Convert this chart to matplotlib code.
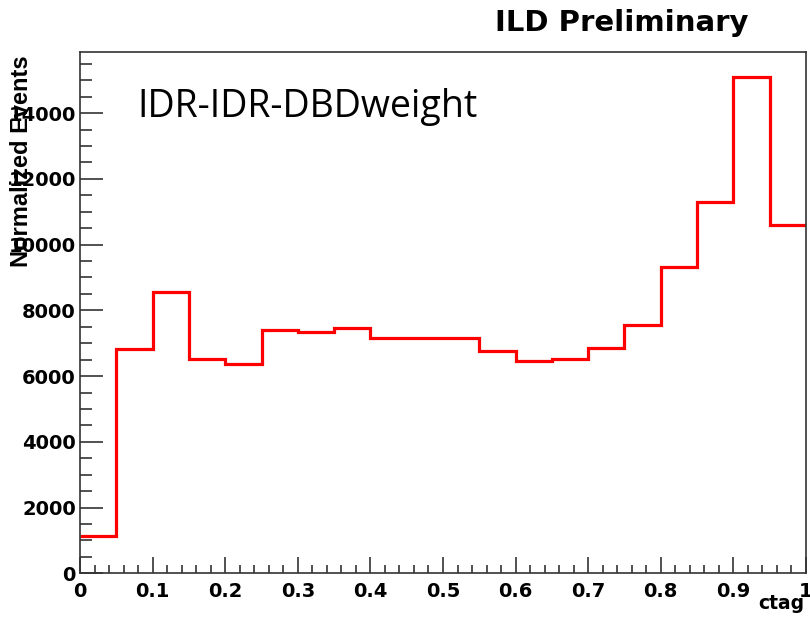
import numpy as np
import matplotlib.pyplot as plt
from matplotlib.ticker import MultipleLocator

# ctag histogram, 20 bins from 0 to 1
bin_edges = [0.0, 0.05, 0.1, 0.15, 0.2, 0.25, 0.3, 0.35, 0.4, 0.45, 0.5,
             0.55, 0.6, 0.65, 0.7, 0.75, 0.8, 0.85, 0.9, 0.95, 1.0]
counts = [1120, 6820, 8570, 6520, 6370, 7410, 7350, 7460, 7160, 7160,
          7160, 6770, 6470, 6510, 6865, 7556, 9310, 11310, 15090, 10600]

x_ticks = [0.0, 0.1, 0.2, 0.3, 0.4, 0.5, 0.6, 0.7, 0.8, 0.9, 1.0]
x_ticklabels = ['0', '0.1', '0.2', '0.3', '0.4', '0.5', '0.6', '0.7', '0.8', '0.9', '1']

title = 'ILD Preliminary'
sample_label = 'IDR-IDR-DBDweight'
x_label = 'ctag'
y_label = 'Normalized Events'

fig = plt.figure(figsize=(8.1, 6.25), dpi=100)
ax = fig.add_axes([0.0988, 0.0827, 0.8962, 0.8341])

ax.stairs(counts, bin_edges, baseline=None, color='red', lw=2.3)

ax.set_xlim(0, 1)
ax.set_ylim(0, 15860)

# оси в стиле ROOT
ax.set_xticks(x_ticks)
ax.set_xticklabels(x_ticklabels)
ax.xaxis.set_minor_locator(MultipleLocator(0.02))
ax.yaxis.set_major_locator(MultipleLocator(2000))
ax.yaxis.set_minor_locator(MultipleLocator(500))
ax.tick_params(axis='both', which='both', direction='in', top=False, right=False,
               color='#333333', width=1.2)
ax.tick_params(axis='y', which='major', length=16.5, pad=3)
ax.tick_params(axis='y', which='minor', length=8.5)
ax.tick_params(axis='x', which='major', length=11.5, pad=6)
ax.tick_params(axis='x', which='minor', length=5.8)
for spine in ax.spines.values():
    spine.set_color('#333333')
    spine.set_linewidth(1.2)

for lab in ax.get_xticklabels() + ax.get_yticklabels():
    lab.set_fontfamily('DejaVu Sans')
    lab.set_fontweight('bold')
    lab.set_fontsize(14)
ax.set_xlim(0, 1)

fig.text(0.9935, 0.035, x_label, ha='right', va='center', fontsize=13.5,
         fontweight='bold', family='DejaVu Sans')
fig.text(0.027, 0.912, y_label, ha='center', va='top', rotation=90, fontsize=17,
         fontweight='bold', family='Liberation Sans')
fig.text(0.768, 0.963, title, ha='center', va='center', fontsize=21,
         fontweight='bold', family='DejaVu Sans')
fig.text(0.170, 0.8128, sample_label, ha='left', va='baseline',
         fontsize=27, family='Open Sans')

fig.savefig('out.png', dpi=100)
